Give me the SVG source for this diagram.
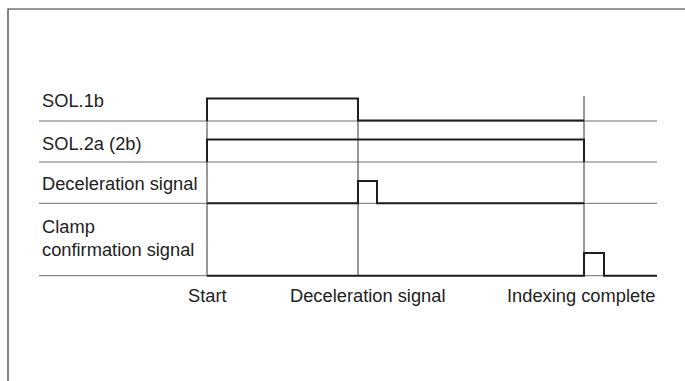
<svg xmlns="http://www.w3.org/2000/svg" width="685" height="381" viewBox="0 0 685 381">
<style>
.t{font-family:"Liberation Sans",Arial,sans-serif;font-size:18.3px;fill:#222}
.grid{stroke:#6e6e6e;stroke-width:1;fill:none}
.sig{stroke:#1e1e1e;stroke-width:2;fill:none;stroke-linejoin:miter}
.vl{stroke:#333;stroke-width:1;fill:none}
.frame{stroke:#333;stroke-width:1.2;fill:none}
</style>
<rect width="685" height="381" fill="#fff"/>
<path class="frame" d="M685,9 H8 V381"/>
<g id="grid">
<path class="grid" d="M39,121 H657 M39,162 H657 M39,203.3 H657 M39,275.7 H657"/>
</g>
<g id="markers">
<path class="vl" d="M207,98 V276 M358,98 V276 M584,96 V276"/>
</g>
<g id="sol1b">
<text class="t" x="42" y="107">SOL.1b</text>
<path class="sig" d="M207,121 V98.5 H358 V120.5 H584"/>
</g>
<g id="sol2a">
<text class="t" x="42" y="149.5">SOL.2a (2b)</text>
<path class="sig" d="M207,162 V139.5 H584 V162"/>
</g>
<g id="decel">
<text class="t" x="42" y="189.5">Deceleration signal</text>
<path class="sig" d="M207,203.3 H358 V181 H377 V203.3 H584"/>
</g>
<g id="clamp">
<text class="t" x="42" y="233">Clamp</text>
<text class="t" x="42" y="256">confirmation signal</text>
<path class="sig" d="M207,275.7 H584 V253 H604 V275.7 H657"/>
</g>
<g id="axis">
<text class="t" x="188" y="301.5">Start</text>
<text class="t" x="290" y="301.5">Deceleration signal</text>
<text class="t" x="507" y="301.5">Indexing complete</text>
</g>
</svg>
